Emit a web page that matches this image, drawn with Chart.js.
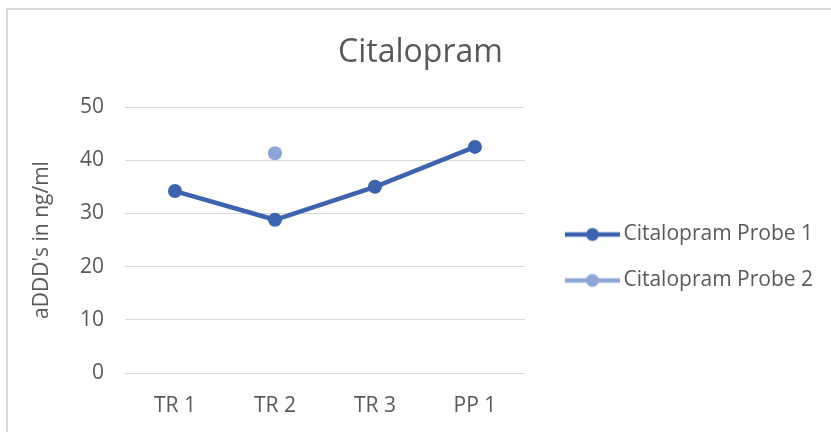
<!DOCTYPE html>
<html>
<head>
<meta charset="utf-8">
<script src="https://cdn.jsdelivr.net/npm/chart.js@4/dist/chart.umd.min.js"></script>
<style>
  html, body { margin: 0; padding: 0; background: #fff; }
  #wrap { position: relative; width: 831px; height: 432px; overflow: hidden; }
  #frame { position: absolute; left: 6px; top: 8px; width: 840px; height: 440px;
           border-left: 2px solid #d9d9d9; border-top: 2px solid #d9d9d9; pointer-events: none; }
  canvas { position: absolute; left: 0; top: 0; }
</style>
</head>
<body>
<div id="wrap">
  <canvas id="c" width="831" height="432"></canvas>
  <div id="frame"></div>
</div>
<script>
const categories = ['TR 1', 'TR 2', 'TR 3', 'PP 1'];
const probe1 = [34.2, 28.8, 35.0, 42.5];
const probe2 = [null, 41.3, null, null];
const seriesNames = ['Citalopram Probe 1', 'Citalopram Probe 2'];
const yTicks = [0, 10, 20, 30, 40, 50];

const col1 = '#3E63AE';
const col2 = '#8EA5D8';
const textCol = '#595959';
const FONT = "'Open Sans', sans-serif";

function legendIcon(color) {
  const cv = document.createElement('canvas');
  cv.width = 77; cv.height = 16;
  const g = cv.getContext('2d');
  g.strokeStyle = color; g.lineWidth = 4.5; g.lineCap = 'butt';
  g.beginPath(); g.moveTo(22, 8); g.lineTo(77, 8); g.stroke();
  g.fillStyle = color;
  g.beginPath(); g.arc(49.5, 8, 6.5, 0, Math.PI * 2); g.fill();
  return cv;
}
const icons = [legendIcon(col1), legendIcon(col2)];

new Chart(document.getElementById('c'), {
  type: 'line',
  data: {
    labels: categories,
    datasets: [
      { label: seriesNames[0], data: probe1, borderColor: col1, backgroundColor: col1,
        borderWidth: 4.5, pointRadius: 7, pointHoverRadius: 7, pointBackgroundColor: col1,
        pointBorderWidth: 0, tension: 0 },
      { label: seriesNames[1], data: probe2, borderColor: col2, backgroundColor: col2,
        borderWidth: 4.5, pointRadius: 7, pointHoverRadius: 7, pointBackgroundColor: col2,
        pointBorderWidth: 0, showLine: false }
    ]
  },
  options: {
    responsive: false,
    animation: false,
    devicePixelRatio: 1,
    layout: { padding: { left: 18, right: 8, top: 0, bottom: 0 } },
    plugins: {
      tooltip: { enabled: false },
      title: {
        display: true, text: 'Citalopram', color: textCol,
        font: { family: FONT, size: 32, weight: 'normal', lineHeight: 1.2 },
        padding: { top: 34, bottom: 34.6 }
      },
      legend: {
        position: 'right', align: 'center', maxWidth: 306,
        title: { display: true, text: ' ', font: { size: 1, lineHeight: 1 }, padding: { top: 41, bottom: 41 } },
        labels: {
          color: textCol, font: { family: FONT, size: 21 },
          usePointStyle: true, pointStyleWidth: 63, boxHeight: 16, padding: 25,
          generateLabels: (chart) => chart.data.datasets.map((ds, i) => ({
            text: ds.label, pointStyle: icons[i], fillStyle: ds.borderColor,
            strokeStyle: ds.borderColor, lineWidth: 0, fontColor: textCol,
            hidden: false, datasetIndex: i
          }))
        }
      }
    },
    scales: {
      x: {
        offset: true,
        grid: { display: false, drawTicks: false },
        border: { display: false },
        ticks: { color: textCol, font: { family: FONT, size: 21 }, padding: 20 },
        afterFit: (s) => { s.height = 59; }
      },
      y: {
        min: 0, max: 50,
        afterBuildTicks: (s) => { s.ticks = yTicks.map(v => ({ value: v })); },
        grid: { color: '#d9d9d9', lineWidth: 1, drawTicks: false },
        border: { display: false },
        ticks: { color: textCol, font: { family: FONT, size: 21 }, padding: 21 },
        title: { display: true, text: "aDDD's in ng/ml", color: textCol,
                 font: { family: FONT, size: 21 }, padding: { top: 11, bottom: 0 } },
        afterFit: (s) => { s.width = 107; }
      }
    }
  }
});
</script>
</body>
</html>
